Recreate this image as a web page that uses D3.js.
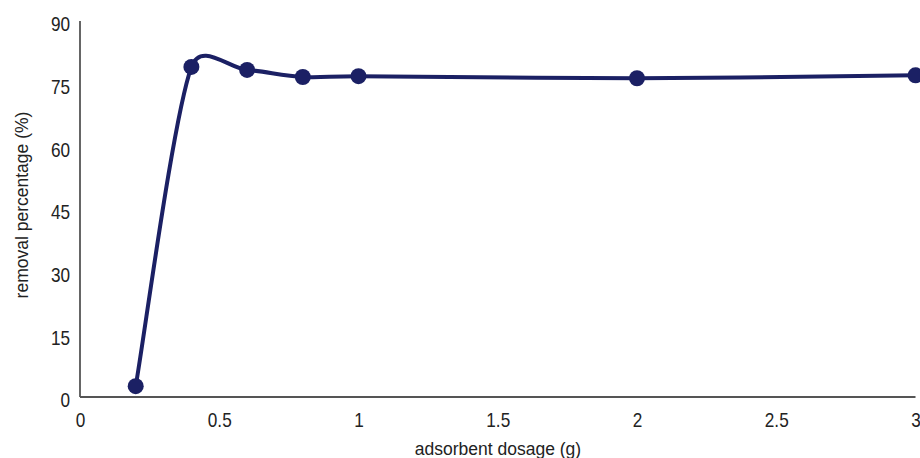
<!DOCTYPE html>
<html>
<head>
<meta charset="utf-8">
<script src="https://cdn.jsdelivr.net/npm/d3@7"></script>
<style>
  html, body { margin: 0; padding: 0; background: #fff; }
  svg { display: block; }
  text { font-family: "Liberation Sans", Arial, Helvetica, sans-serif; fill: #222; }
</style>
</head>
<body>
<svg id="chart" width="920" height="458"></svg>
<script>
// Adsorbent dosage (g) vs removal percentage (%)
const dosage = [0.2, 0.4, 0.6, 0.8, 1.0, 2.0, 3.0];
const removal = [2.6, 79.0, 78.3, 76.6, 76.8, 76.3, 77.0];
const xTicks = [0, 0.5, 1, 1.5, 2, 2.5, 3];
const xTickLabels = ["0", "0.5", "1", "1.5", "2", "2.5", "3"];
const yTicks = [0, 15, 30, 45, 60, 75, 90];

const svg = d3.select("#chart");
const color = "#1b2064";

const x = d3.scaleLinear().domain([0, 3]).range([80, 915.5]);
const y = d3.scaleLinear().domain([0, 90]).range([397, 21]);

// Smooth Bezier curve: tangents from neighbouring points (1/6 factor),
// control arms limited to half of the segment length.
function curveSmooth(context) {
  let pts;
  function ctrl(p, tx, ty, seg, sign) {
    let dx = tx / 6, dy = ty / 6;
    const len = Math.hypot(dx, dy);
    if (len > seg / 2) { dx *= seg / 2 / len; dy *= seg / 2 / len; }
    return [p[0] + sign * dx, p[1] + sign * dy];
  }
  return {
    areaStart() {}, areaEnd() {},
    lineStart() { pts = []; },
    point(px, py) { pts.push([+px, +py]); },
    lineEnd() {
      const n = pts.length;
      if (!n) return;
      context.moveTo(pts[0][0], pts[0][1]);
      for (let i = 0; i < n - 1; i++) {
        const p0 = pts[Math.max(i - 1, 0)], p1 = pts[i], p2 = pts[i + 1], p3 = pts[Math.min(i + 2, n - 1)];
        const seg = Math.hypot(p2[0] - p1[0], p2[1] - p1[1]);
        const c1 = ctrl(p1, p2[0] - p0[0], p2[1] - p0[1], seg, 1);
        const c2 = ctrl(p2, p3[0] - p1[0], p3[1] - p1[1], seg, -1);
        context.bezierCurveTo(c1[0], c1[1], c2[0], c2[1], p2[0], p2[1]);
      }
    }
  };
}

// Axes: plain lines, no tick marks
const xAxis = d3.axisBottom(x).tickValues(xTicks)
  .tickFormat((d, i) => xTickLabels[i]).tickSize(0);
const yAxis = d3.axisLeft(y).tickValues(yTicks).tickSize(0);

const gx = svg.append("g").attr("transform", `translate(0,${y(0)})`).call(xAxis);
const gy = svg.append("g").attr("transform", `translate(${x(0)},0)`).call(yAxis);

gx.select(".domain").attr("stroke", "#555").attr("stroke-width", 1.8).attr("d", `M${x(0)},0H${x(3)}`);
gy.select(".domain").attr("stroke", "#555").attr("stroke-width", 1.8).attr("d", `M0,${y(0)}V${y(90)}`);

svg.selectAll(".tick text")
  .style("font-family", '"Liberation Sans", Arial, Helvetica, sans-serif')
  .style("font-size", "20px").attr("fill", "#222")
  .attr("x", 0).attr("y", 0).attr("dy", "0.36em");
gx.selectAll(".tick text").attr("transform", "translate(0,23) scale(0.86,1)");
gy.selectAll(".tick text").attr("transform", "translate(-10,2.5) scale(0.86,1)");

// Axis titles
svg.append("text")
  .attr("x", 498).attr("y", 455)
  .attr("text-anchor", "middle")
  .style("font-size", "17.5px")
  .text("adsorbent dosage (g)");

svg.append("text")
  .attr("transform", "translate(27.5,205) rotate(-90)")
  .attr("text-anchor", "middle")
  .style("font-size", "17.5px")
  .text("removal percentage (%)");

// Smoothed series line
const pts = dosage.map((d, i) => [d, removal[i]]);
const line = d3.line()
  .x(d => x(d[0])).y(d => y(d[1]))
  .curve(curveSmooth);

svg.append("path")
  .datum(pts)
  .attr("d", line)
  .attr("fill", "none")
  .attr("stroke", color)
  .attr("stroke-width", 4)
  .attr("stroke-linejoin", "round");

svg.append("g").selectAll("circle")
  .data(pts).join("circle")
  .attr("cx", d => x(d[0]))
  .attr("cy", d => y(d[1]))
  .attr("r", 8)
  .attr("fill", color);
</script>
</body>
</html>
